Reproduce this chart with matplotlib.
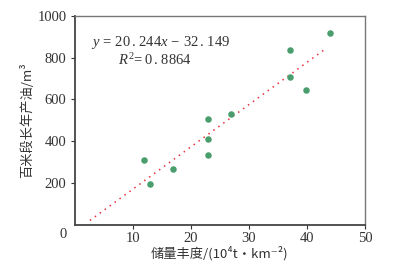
import matplotlib.pyplot as plt
import numpy as np

# reserve abundance (10^4 t/km^2) vs annual oil per 100 m (m^3)
abundance = [44.0, 37.0, 37.0, 39.9, 23.0, 26.9, 23.0, 23.0, 12.0, 17.0, 12.9]
oil = [920, 837, 708, 646, 505, 529, 409, 336, 312, 266, 194]
slope, intercept = 20.244, -32.149
fit_x = [2.6, 43.3]
xticks = [10, 20, 30, 40, 50]
yticks = [200, 400, 600, 800, 1000]

plt.rcParams['font.family'] = ['Liberation Serif', 'Noto Sans CJK SC']
plt.rcParams['mathtext.fontset'] = 'custom'
plt.rcParams['mathtext.rm'] = 'Liberation Serif'
plt.rcParams['mathtext.it'] = 'Liberation Serif:italic'

fig = plt.figure(figsize=(4, 2.65), dpi=100)
ax = fig.add_axes([0.187, 0.152, 0.7255, 0.788])

fx = np.array(fit_x)
ax.plot(fx, slope * fx + intercept, linestyle=(0, (1, 3)), color='#e8303a', lw=1.1)
ax.scatter(abundance, oil, s=22, color='#4a9e6e', zorder=3, linewidths=0)

ax.set_xlim(0, 50)
ax.set_ylim(0, 1000)
ax.set_xticks(xticks)
ax.set_yticks(yticks)
ax.tick_params(labelsize=10.5, length=3, width=0.8, colors='#333333')
ax.tick_params(axis='x', pad=2)
ax.tick_params(axis='y', pad=3)

for s in ['left', 'bottom']:
    ax.spines[s].set_color('#444444')
    ax.spines[s].set_linewidth(1.3)
for s in ['top', 'right']:
    ax.spines[s].set_color('#777777')
    ax.spines[s].set_linewidth(1.0)

fig.text(63 / 400, 1 - 235 / 265, '0', ha='center', va='center', fontsize=10.5, color='#333333')

ax.text(0.055, 0.875, r'$y\,=\,20\,.\,244x\,-\,32\,.\,149$', transform=ax.transAxes,
        fontsize=10.5, color='#333333', va='center')
ax.text(0.15, 0.79, r'$R^2\!=0\,.\,8864$', transform=ax.transAxes,
        fontsize=10.5, color='#333333', va='center')

ax.set_ylabel('百米段长年产油/m³', fontsize=9.5, color='#333333',
              family=['Noto Sans CJK SC', 'DejaVu Sans'], labelpad=2)
ax.set_xlabel('储量丰度/(10⁴t·km⁻²)', fontsize=9.5, color='#333333',
              family=['Noto Sans CJK SC', 'DejaVu Sans'], labelpad=1)

fig.savefig('out.png', dpi=100)
